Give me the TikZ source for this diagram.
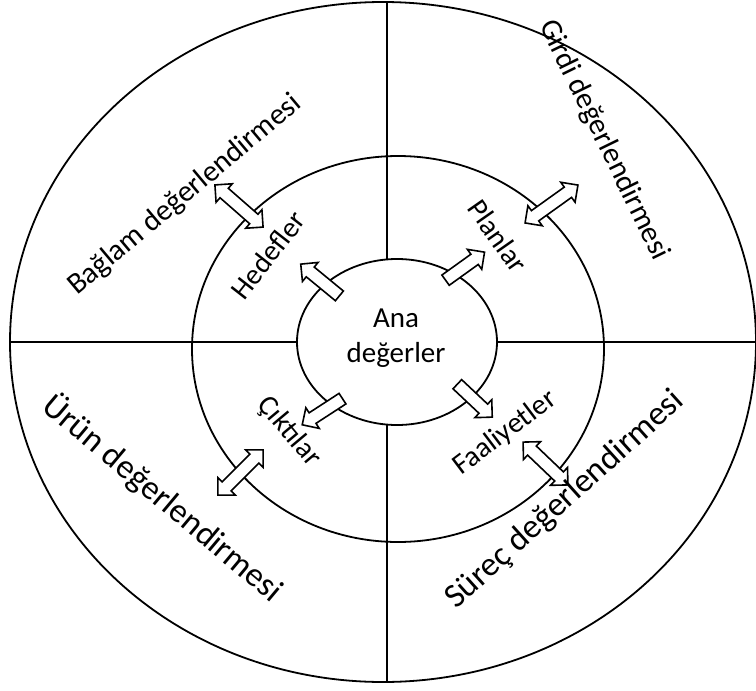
\documentclass[tikz,border=0pt]{standalone}
\usepackage{fontspec}
\setmainfont{Carlito}
\usetikzlibrary{shapes.geometric}
\usetikzlibrary{shapes.arrows}

\begin{document}
\begin{tikzpicture}[x=1pt, y=-1pt,
    ring/.style = {draw, ellipse, line width=1.8pt, inner sep=0pt, outer sep=0pt},
    onearrow/.style = {draw, fill=white, single arrow, line width=1.6pt,
      inner xsep=0pt, inner ysep=5.5pt, single arrow head extend=6pt},
    twoarrow/.style = {draw, fill=white, double arrow, line width=1.6pt,
      inner xsep=0pt, inner ysep=5.5pt, double arrow head extend=6pt},
    inlabel/.style = {font=\fontsize{29}{35}\selectfont, inner sep=0pt},
    outlabel/.style = {font=\fontsize{30}{36}\selectfont, inner sep=0pt},
    lowlabel/.style = {font=\fontsize{34}{40}\selectfont, inner sep=0pt}]
      \useasboundingbox (0,0) rectangle (756,691);

      \node[ring, minimum width=746pt, minimum height=680pt] (outer) at (383,342) {};
      \node[ring, minimum width=412pt, minimum height=386pt] (middle) at (398,349) {};
      \node[ring, minimum width=200pt, minimum height=166pt] (inner) at (397,342) {};
      \coordinate (axis) at (387,342);
      \coordinate (rim) at (756,342);

      \draw[line width=1.8pt] (outer.north -| axis) -- (inner.north -| axis);
      \draw[line width=1.8pt] (inner.south -| axis) -- (outer.south -| axis);
      \draw[line width=1.8pt] (outer.west) -- (inner.west);
      \draw[line width=1.8pt] (inner.east) -- (rim);

      \node[inlabel, align=center] (core) at (396,338) {Ana\\değerler};

      \node[onearrow, rotate=140.6, minimum height=50pt] (toHedef) at (322.5,282) {};
      \node[onearrow, rotate=35.7, minimum height=48pt] (toPlan) at (462.5,268) {};
      \node[onearrow, rotate=213, minimum height=48pt] (toCikti) at (325,410) {};
      \node[onearrow, rotate=-43.3, minimum height=48pt] (toFaal) at (472.5,398.5) {};

      \node[twoarrow, rotate=-41.2, minimum height=64pt] (baglamArrow) at (239,206) {};
      \node[twoarrow, rotate=35.6, minimum height=65pt] (girdiArrow) at (551.5,204) {};
      \node[twoarrow, rotate=45, minimum height=64pt] (urunArrow) at (240.5,472.5) {};
      \node[twoarrow, rotate=-43.7, minimum height=62pt] (surecArrow) at (545.5,463.5) {};

      \node[inlabel, rotate=52] (hedef) at (268,255) {Hedefler};
      \node[inlabel, rotate=-55] (plan) at (498,236) {Planlar};
      \node[inlabel, rotate=-50] (cikti) at (289,432) {Çıktılar};
      \node[inlabel, rotate=37] (faal) at (505,433) {Faaliyetler};

      \node[outlabel, rotate=40] (baglam) at (185,195) {Bağlam değerlendirmesi};
      \node[outlabel, rotate=-64] (girdi) at (604,140) {Girdi değerlendirmesi};
      \node[lowlabel, rotate=-40] (urun) at (163,498) {Ürün değerlendirmesi};
      \node[lowlabel, rotate=42] (surec) at (565,500) {Süreç değerlendirmesi};
    \end{tikzpicture}
\end{document}
